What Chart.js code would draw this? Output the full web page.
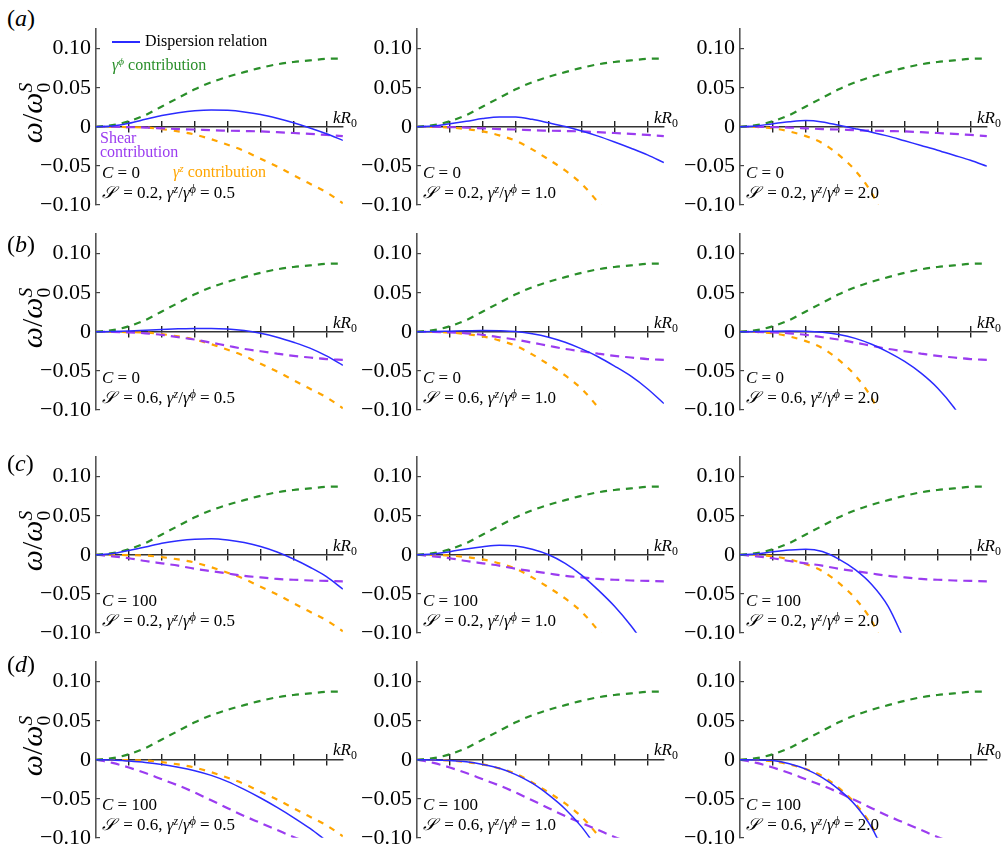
<!DOCTYPE html>
<html lang="en">
<head>
<meta charset="UTF-8">
<title>Dispersion relation panels</title>
<script src="https://cdn.jsdelivr.net/npm/chart.js"></script>
<style>
  body {
    margin: 0;
    background: #ffffff;
    width: 1005px;
    height: 852px;
    position: relative;
    overflow: hidden;
    font-family: 'Liberation Serif', 'DejaVu Serif', serif;
  }
  .panel { position: absolute; }
  .txt {
    position: absolute;
    white-space: nowrap;
    font-family: 'Liberation Serif', 'DejaVu Serif', serif;
  }
  .txt sup { font-size: 70%; line-height: 0; vertical-align: 0.45em; }
  .txt sub { font-size: 70%; line-height: 0; vertical-align: -0.3em; }
  .txt .scr { display: inline-block; margin-right: 4px; }
  .ylab {
    position: absolute;
    width: 110px;
    height: 40px;
    line-height: 40px;
    text-align: center;
    font-size: 30px;
    white-space: nowrap;
    transform: rotate(-90deg);
  }
  .ylab .ss {
    display: inline-flex;
    flex-direction: column;
    vertical-align: middle;
    font-size: 65%;
    line-height: 0.95;
    text-align: left;
  }
  .legline {
    position: absolute;
    height: 2px;
    background: #2b2bff;
  }
</style>
</head>
<body>
<script>
  // kR0 sample points
  const kR = [0, 0.5, 1, 1.5, 2, 2.5, 3, 3.5, 4, 4.5, 5, 5.5, 6, 6.5, 7, 7.5];
  const xTicks = [1, 2, 3, 4, 5, 6, 7];
  const yTicks = [-0.10, -0.05, 0, 0.05, 0.10];

  // gamma-phi contribution (same in every panel)
  const gammaPhi = [0, 0.002, 0.007, 0.015, 0.026, 0.037, 0.048, 0.057, 0.064, 0.070, 0.0755, 0.080, 0.083, 0.085, 0.087, 0.0875];

  // gamma-z contribution, per gamma^z/gamma^phi ratio
  const gammaZ05 = [0, -0.0001, -0.0005, -0.001, -0.003, -0.006, -0.010, -0.016, -0.023, -0.031, -0.041, -0.051, -0.062, -0.073, -0.084, -0.098];
  const gammaZ10 = [0, -0.0002, -0.001, -0.003, -0.006, -0.011, -0.018, -0.029, -0.042, -0.056, -0.073, -0.097, -0.125, null, null, null];
  const gammaZ20 = [0, -0.0003, -0.002, -0.006, -0.012, -0.021, -0.036, -0.056, -0.085, -0.13, null, null, null, null, null, null];

  // shear contribution, per row (C, S)
  const shearA = [0, 0, -0.0005, -0.001, -0.002, -0.003, -0.0035, -0.0045, -0.005, -0.0055, -0.006, -0.007, -0.008, -0.009, -0.0105, -0.012];
  const shearB = [0, -0.0002, -0.0008, -0.002, -0.004, -0.007, -0.010, -0.014, -0.018, -0.022, -0.025, -0.028, -0.031, -0.033, -0.035, -0.036];
  const shearC = [0, -0.002, -0.0045, -0.008, -0.011, -0.014, -0.018, -0.021, -0.024, -0.027, -0.029, -0.031, -0.032, -0.033, -0.0335, -0.034];
  const shearD = [0, -0.004, -0.010, -0.017, -0.025, -0.033, -0.042, -0.052, -0.062, -0.072, -0.081, -0.090, -0.099, -0.107, null, null];

  // dispersion relation, one per panel
  const dispA1 = [0, 0.001, 0.0045, 0.0095, 0.0145, 0.018, 0.0205, 0.0215, 0.021, 0.019, 0.0158, 0.011, 0.0052, -0.0015, -0.009, -0.0175];
  const dispA2 = [0, 0.001, 0.0039, 0.007, 0.0105, 0.0125, 0.0125, 0.0095, 0.005, 0.0002, -0.0055, -0.012, -0.0195, -0.0275, -0.036, -0.046];
  const dispA3 = [0, 0.001, 0.004, 0.0065, 0.008, 0.0062, 0.0018, -0.0025, -0.007, -0.012, -0.018, -0.024, -0.030, -0.0365, -0.043, -0.0505];
  const dispB1 = [0, 0.0003, 0.001, 0.002, 0.003, 0.0038, 0.0043, 0.0043, 0.0035, 0.0015, -0.002, -0.007, -0.0135, -0.021, -0.031, -0.043];
  const dispB2 = [0, 0.0002, 0.0008, 0.0014, 0.0017, 0.0013, 0.0002, -0.0025, -0.007, -0.0135, -0.022, -0.032, -0.044, -0.057, -0.073, -0.092];
  const dispB3 = [0, 0.0002, 0.0008, 0.001, 0.0008, -0.0005, -0.0035, -0.0085, -0.016, -0.026, -0.038, -0.053, -0.072, -0.097, -0.13, null];
  const dispC1 = [0, 0.0015, 0.0055, 0.010, 0.0148, 0.018, 0.020, 0.0205, 0.019, 0.0158, 0.0105, 0.0035, -0.0055, -0.016, -0.028, -0.044];
  const dispC2 = [0, 0.001, 0.004, 0.0075, 0.0103, 0.0122, 0.0113, 0.007, 0, -0.011, -0.026, -0.045, -0.066, -0.091, -0.12, null];
  const dispC3 = [0, 0.001, 0.0038, 0.006, 0.0072, 0.0042, -0.0055, -0.019, -0.038, -0.066, -0.11, null, null, null, null, null];
  const dispD1 = [0, -0.0003, -0.0017, -0.0035, -0.006, -0.0095, -0.014, -0.020, -0.028, -0.038, -0.049, -0.061, -0.074, -0.088, -0.104, null];
  const dispD2 = [0, -0.0002, -0.001, -0.0025, -0.006, -0.011, -0.019, -0.030, -0.045, -0.063, -0.086, -0.115, null, null, null, null];
  const dispD3 = [0, -0.0002, -0.001, -0.005, -0.012, -0.023, -0.038, -0.058, -0.087, -0.13, null, null, null, null, null, null];

  const rowC = ['0', '0', '100', '100'];
  const rowS = ['0.2', '0.6', '0.2', '0.6'];
  const colRatio = ['0.5', '1.0', '2.0'];
  const rowLetters = ['a', 'b', 'c', 'd'];

  const disp = [[dispA1, dispA2, dispA3], [dispB1, dispB2, dispB3], [dispC1, dispC2, dispC3], [dispD1, dispD2, dispD3]];
  const shear = [shearA, shearB, shearC, shearD];
  const gammaZ = [gammaZ05, gammaZ10, gammaZ20];

  const cores = {
    azul: '#2b2bff',
    verde: '#2a8f2a',
    roxo: '#9b3cf0',
    laranja: '#ffa500',
    eixo: '#333333'
  };

  // layout: chart area placement
  const colLeft = [96, 417, 740];
  const rowZero = [127, 332, 555, 759.5];
  const rowLetterBase = [26.5, 252, 471, 672];
  const PX_PER_UNIT_Y = 780;
  const Y_MIN = -0.10, Y_MAX = 0.125, X_MAX = 7.5;
  const AREA_W = 248, AREA_H = (Y_MAX - Y_MIN) * PX_PER_UNIT_Y;

  Chart.defaults.font.family = "'Liberation Serif', 'DejaVu Serif', serif";

  function pts(vals) {
    return kR.map((x, i) => ({ x: x, y: vals[i] }));
  }

  function fmtY(v) {
    if (Math.abs(v) < 1e-9) return '0';
    return (v < 0 ? '\u2212' : '') + Math.abs(v).toFixed(2);
  }

  function addText(html, x, base, size, color) {
    const d = document.createElement('div');
    d.className = 'txt';
    d.innerHTML = html;
    d.style.left = x + 'px';
    d.style.top = (base - 0.8375 * size) + 'px';
    d.style.fontSize = size + 'px';
    d.style.lineHeight = size + 'px';
    d.style.color = color || '#000';
    document.body.appendChild(d);
  }

  function makePanel(r, c) {
    const wrap = document.createElement('div');
    wrap.className = 'panel';
    const cv = document.createElement('canvas');
    cv.width = 330;
    cv.height = 240;
    wrap.appendChild(cv);
    document.body.appendChild(wrap);

    const tickSetX = s => { s.ticks = xTicks.map(v => ({ value: v })); };

    const chart = new Chart(cv, {
      type: 'line',
      data: {
        datasets: [
          { label: 'Dispersion relation', data: pts(disp[r][c]), borderColor: cores.azul, borderWidth: 1.5 },
          { label: 'gamma phi', data: pts(gammaPhi), borderColor: cores.verde, borderWidth: 2.2, borderDash: [7, 6] },
          { label: 'shear', data: pts(shear[r]), borderColor: cores.roxo, borderWidth: 2.2, borderDash: [9, 6] },
          { label: 'gamma z', data: pts(gammaZ[c]), borderColor: cores.laranja, borderWidth: 2.2, borderDash: [6, 7] }
        ]
      },
      options: {
        responsive: false,
        maintainAspectRatio: false,
        animation: false,
        layout: { padding: 0 },
        plugins: { legend: { display: false }, tooltip: { enabled: false } },
        elements: {
          point: { radius: 0 },
          line: { cubicInterpolationMode: 'monotone', fill: false }
        },
        scales: {
          x: {
            type: 'linear', min: 0, max: X_MAX, position: { y: 0 },
            afterBuildTicks: tickSetX,
            ticks: { display: false },
            grid: { drawOnChartArea: false, tickLength: 5, color: '#222', lineWidth: 1.4 },
            border: { color: cores.eixo, width: 1.6 }
          },
          x2: {
            type: 'linear', min: 0, max: X_MAX, position: { y: 0 },
            afterBuildTicks: tickSetX,
            ticks: { display: false },
            grid: { drawOnChartArea: false, tickLength: -6, color: '#222', lineWidth: 1.4 },
            border: { display: false }
          },
          y: {
            type: 'linear', min: Y_MIN, max: Y_MAX, position: 'left',
            afterBuildTicks: s => { s.ticks = yTicks.map(v => ({ value: v })); },
            afterFit: s => { s.width = 60; },
            ticks: { callback: fmtY, color: '#000', font: { size: 22 }, padding: 9 },
            grid: { drawOnChartArea: false, tickLength: -4, color: '#444', lineWidth: 1.2 },
            border: { color: '#555', width: 1.6 }
          }
        }
      }
    });

    const a = chart.chartArea;
    const padL = a.left, padR = cv.width - a.right;
    const padT = a.top, padB = cv.height - a.bottom;
    chart.resize(Math.round(AREA_W + padL + padR), Math.round(AREA_H + padT + padB));
    const b = chart.chartArea;
    wrap.style.left = (colLeft[c] - b.left) + 'px';
    wrap.style.top = (rowZero[r] - Y_MAX * PX_PER_UNIT_Y - b.top) + 'px';

    const x0 = colLeft[c], z = rowZero[r];
    addText('<i>kR</i><sub>0</sub>', x0 + 237, z - 4, 17);
    addText('<i>C</i> = ' + rowC[r], x0 + 6, z + 51, 17);
    addText('<i class="scr">\uD835\uDCAE</i> = ' + rowS[r] + ', <i>\u03B3</i><sup><i>z</i></sup>/<i>\u03B3</i><sup><i>\u03D5</i></sup> = ' + colRatio[c], x0 + 6, z + 71, 17);
  }

  for (let r = 0; r < 4; r++) {
    for (let c = 0; c < 3; c++) makePanel(r, c);
    addText('(<i>' + rowLetters[r] + '</i>)', 7, rowLetterBase[r], 24);

    const yl = document.createElement('div');
    yl.className = 'ylab';
    yl.innerHTML = '<i>\u03C9</i>/<i>\u03C9</i><span class="ss"><i>S</i><span>0</span></span>';
    yl.style.left = (32 - 55) + 'px';
    yl.style.top = (rowZero[r] - 14 - 20) + 'px';
    document.body.appendChild(yl);
  }

  // legend notes in panel (a) left
  const leg = document.createElement('div');
  leg.className = 'legline';
  leg.style.left = '112px';
  leg.style.top = '40.5px';
  leg.style.width = '28px';
  document.body.appendChild(leg);
  addText('Dispersion relation', 145, 46.5, 16, '#000');
  addText('<i>\u03B3</i><sup><i>\u03D5</i></sup> contribution', 112, 70, 16, cores.verde);
  addText('Shear', 100, 143, 16, cores.roxo);
  addText('contribution', 100, 157.5, 16, cores.roxo);
  addText('<i>\u03B3</i><sup><i>z</i></sup> contribution', 173, 177, 16, cores.laranja);
</script>
</body>
</html>
